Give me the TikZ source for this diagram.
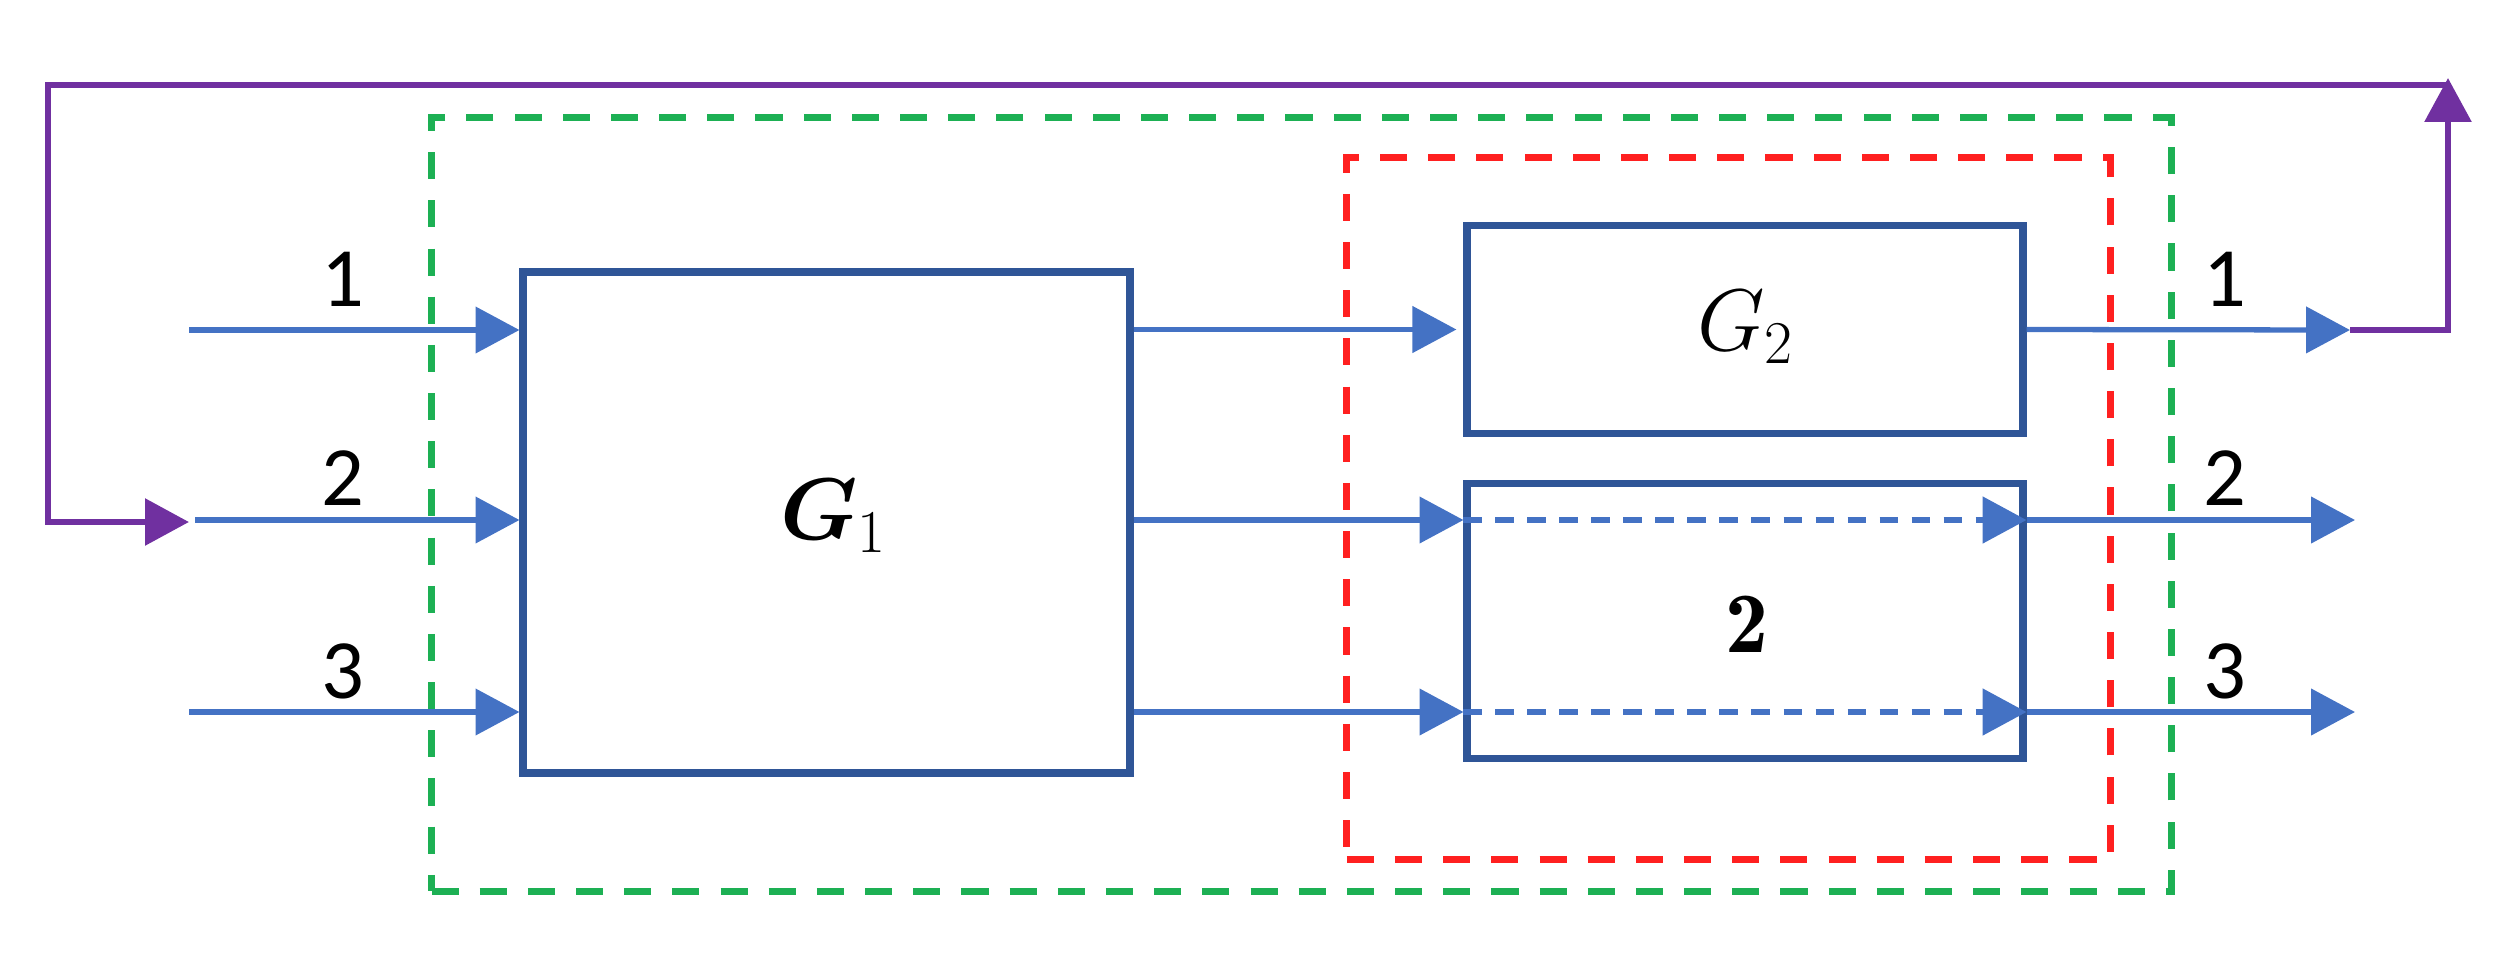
\documentclass[tikz,border=0pt]{standalone}
\usepackage{fontspec}
\usepackage{bm}
\usetikzlibrary{arrows.meta}
\newfontfamily\lblfont{Carlito}
\definecolor{conblue}{HTML}{4472C4}
\definecolor{boxblue}{HTML}{2F5597}
\definecolor{fbpurple}{HTML}{7030A0}
\definecolor{grpgreen}{HTML}{1DB054}
\definecolor{grpred}{HTML}{FF2020}
\begin{document}
\begin{tikzpicture}[x=0.01cm,y=-0.01cm,
  blk/.style={draw=boxblue,line width=2.2pt,inner sep=0pt},
  conn/.style={draw=conblue,line width=1.5pt,-{Triangle[length=12.5pt,width=13pt]}},
  dconn/.style={conn,line width=1.7pt,dash pattern=on 5.4pt off 3.7pt},
  fb/.style={draw=fbpurple,line width=1.9pt},
  fbarrow/.style={fb,-{Triangle[length=12.5pt,width=13pt]}},
  grp/.style={line width=2pt,dash pattern=on 7.7pt off 6pt,inner sep=0pt},
  lbl/.style={inner sep=0pt,font=\lblfont\fontsize{24pt}{28pt}\selectfont},
  mth/.style={inner sep=0pt,font=\fontsize{24.5pt}{28pt}\selectfont}]
\useasboundingbox (0,0) rectangle (2508,966);

% group frames
\node[grp,draw=grpgreen,minimum width=17.39cm,minimum height=7.73cm] (grpG) at (1301.5,504.5) {};
\node[grp,draw=grpred,minimum width=7.63cm,minimum height=7.01cm] (grpR) at (1728.5,508.5) {};

% blocks
\node[blk,minimum width=6.06cm,minimum height=5.00cm] (G1) at (826.5,522.5) {};
\node[blk,minimum width=5.55cm,minimum height=2.08cm] (G2) at (1745,329.5) {};
\node[blk,minimum width=5.55cm,minimum height=2.75cm] (B2) at (1745,621) {};

% block texts
\node[mth] (tG1) at (834,516) {$\bm{G}_1$};
\node[mth] (tG2) at (1746,327) {$G_2$};
\node[mth] (tB2) at (1747,624) {$\mathbf{2}$};

% coordinates
\coordinate (in1) at (189,330);
\coordinate (in2) at (195,520);
\coordinate (in3) at (189,712);
\coordinate (out1) at (2350,330);
\coordinate (out2) at (2355,520);
\coordinate (out3) at (2355,712);
\coordinate (fbTR) at (2448,85);
\coordinate (fbTL) at (48,85);
\coordinate (fbEnd) at (189,522);

% inputs
\draw[conn] (in1) -- (in1 -| G1.west);
\draw[conn] (in2) -- (in2 -| G1.west);
\draw[conn] (in3) -- (in3 -| G1.west);

% G1 to right blocks
\draw[conn,shorten >=2pt] (G1.east |- G2.west) -- (G2.west);
\draw[conn] (G1.east |- in2) -- (B2.west |- in2);
\draw[conn] (G1.east |- in3) -- (B2.west |- in3);

% through box 2
\draw[dconn] (B2.west |- in2) -- (B2.east |- in2);
\draw[dconn] (B2.west |- in3) -- (B2.east |- in3);

% outputs
\draw[conn] (G2.east) -- (out1);
\draw[conn] (B2.east |- in2) -- (out2);
\draw[conn] (B2.east |- in3) -- (out3);

% feedback
\draw[fbarrow,shorten >=-2pt] (out1) -| (fbTR);
\draw[fbarrow] (fbTR) -- (fbTL) |- (fbEnd);

% labels
\node[lbl] (l1) at (343,279) {1};
\node[lbl] (l2) at (343,478) {2};
\node[lbl] (l3) at (343,671) {3};
\node[lbl] (r1) at (2225,279) {1};
\node[lbl] (r2) at (2225,478) {2};
\node[lbl] (r3) at (2225,671) {3};
\end{tikzpicture}
\end{document}
